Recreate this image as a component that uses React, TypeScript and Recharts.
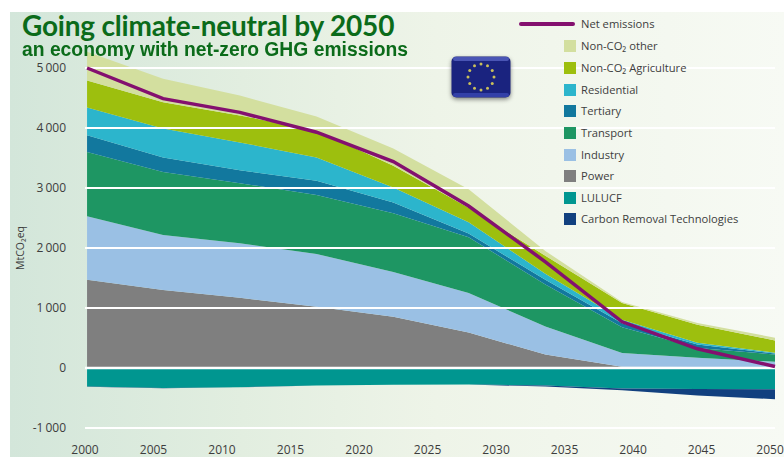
import React from "react";
import { ComposedChart, Area, Line, XAxis, YAxis, ReferenceLine } from "recharts";

// Scenario milestones sit on their own grid, slightly off the printed year labels
const years = [2000.15, 2005.7, 2011.3, 2016.9, 2022.5, 2028.0, 2033.6, 2039.2, 2044.7, 2050.36];
const yearTicks = [2000, 2005, 2010, 2015, 2020, 2025, 2030, 2035, 2040, 2045, 2050];
const valueTicks = [-1000, 0, 1000, 2000, 3000, 4000, 5000];

const power = [1470, 1300, 1170, 1020, 855, 590, 225, 20, 15, 5];
const industry = [1060, 915, 910, 880, 745, 660, 465, 230, 155, 100];
const transport = [1070, 1050, 1000, 985, 980, 930, 700, 430, 165, 120];
const tertiary = [280, 245, 215, 235, 180, 60, 80, 65, 55, 15];
const residential = [460, 480, 465, 390, 250, 190, 100, 60, 30, 15];
const agriculture = [450, 440, 450, 450, 360, 240, 300, 280, 300, 205];
const nonCo2Other = [480, 390, 330, 230, 290, 310, 80, 15, 30, 45];
const lulucf = [-310, -335, -320, -290, -280, -275, -290, -340, -350, -355];
// Kept just below zero: the sign offset would otherwise pull a zero back to the axis
const carbonRemoval = [-1, -1, -1, -1, -1, -1, -20, -30, -110, -165];
const netEmissions = [5000, 4490, 4260, 3930, 3440, 2700, 1770, 770, 320, 25];

const data = years.map((year, i) => ({
  year,
  power: power[i],
  industry: industry[i],
  transport: transport[i],
  tertiary: tertiary[i],
  residential: residential[i],
  agriculture: agriculture[i],
  nonCo2Other: nonCo2Other[i],
  lulucf: lulucf[i],
  carbonRemoval: carbonRemoval[i],
  net: netEmissions[i],
}));

// Drawn bottom-up, so the stack order follows this list
const areas = [
  { key: "power", color: "#7f7f7f" },
  { key: "industry", color: "#9ac0e4" },
  { key: "transport", color: "#1e9663" },
  { key: "tertiary", color: "#12789e" },
  { key: "residential", color: "#2cb5cc" },
  { key: "agriculture", color: "#9dbf0e" },
  { key: "nonCo2Other", color: "#d3df9f" },
  { key: "lulucf", color: "#009690" },
  { key: "carbonRemoval", color: "#11407f" },
];

const legendItems = [
  { label: "Non-CO₂ other", color: "#d3df9f", top: 46 },
  { label: "Non-CO₂ Agriculture", color: "#9dbf0e", top: 68 },
  { label: "Residential", color: "#2cb5cc", top: 90 },
  { label: "Tertiary", color: "#12789e", top: 111 },
  { label: "Transport", color: "#1e9663", top: 133 },
  { label: "Industry", color: "#9ac0e4", top: 155 },
  { label: "Power", color: "#7f7f7f", top: 176 },
  { label: "LULUCF", color: "#009690", top: 198 },
  { label: "Carbon Removal Technologies", color: "#11407f", top: 219 },
];

const formatValue = (v: number) => {
  if (v === 0) return "0";
  const abs = Math.abs(v);
  return `${v < 0 ? "-" : ""}${Math.floor(abs / 1000)}\u2009${String(abs % 1000).padStart(3, "0")}`;
};

const EuFlag = () => {
  const stars = Array.from({ length: 12 }, (_, i) => (i * Math.PI) / 6);
  return (
    <svg
      width={60}
      height={42}
      style={{ position: "absolute", left: 451, top: 56, filter: "drop-shadow(0 2px 2px rgba(0,0,0,0.45))" }}
    >
      <rect x={0.5} y={0.5} width={59} height={41} rx={5} fill="#1a237f" />
      <rect x={2} y={1} width={56} height={4} rx={2} fill="#4a55b5" />
      <rect x={2} y={37} width={56} height={4} rx={2} fill="#3340a8" />
      {stars.map((a) => (
        <circle key={a} cx={30 + 13 * Math.sin(a)} cy={21 + 13 * Math.cos(a)} r={1.5} fill="#c9bf5a" />
      ))}
    </svg>
  );
};

const App = () => {
  const tickStyle = { fontFamily: "'Open Sans'", fontSize: 12, fill: "#3d3d3d" };
  const legendText = { position: "absolute", left: 581, fontFamily: "'Open Sans'", fontSize: 11.2, lineHeight: "16px", color: "#3d3d3d", whiteSpace: "nowrap" } as const;
  return (
    <div
      style={{
        position: "absolute",
        left: 0,
        top: 0,
        width: 784,
        height: 457,
        background: "#fff",
        overflow: "hidden",
      }}
    >
      <div
        style={{
          position: "absolute",
          left: 10,
          top: 12,
          width: 774,
          height: 445,
          background: "linear-gradient(90deg, #d3e6da 0%, #e2eee0 30%, #eef4e8 55%, #f7faf4 100%)",
        }}
      />
      <ComposedChart
        width={784}
        height={457}
        data={data}
        stackOffset="sign"
        margin={{ top: 38, right: 9, bottom: 0, left: 25 }}
        style={{ position: "absolute", left: 0, top: 0 }}
      >
        <XAxis
          dataKey="year"
          type="number"
          domain={[2000, 2050.36]}
          ticks={yearTicks}
          interval={0}
          axisLine={false}
          tickLine={false}
          height={29}
          tick={tickStyle}
          tickMargin={11}
        />
        <YAxis
          type="number"
          domain={[-1000, 5500]}
          ticks={valueTicks}
          interval={0}
          width={60}
          axisLine={false}
          tickLine={false}
          tick={tickStyle}
          tickMargin={13}
          tickFormatter={formatValue}
        />
        {areas.map((a) => (
          <Area
            key={a.key}
            type="linear"
            dataKey={a.key}
            stackId="emissions"
            stroke="none"
            fill={a.color}
            fillOpacity={1}
            isAnimationActive={false}
          />
        ))}
        {valueTicks.map((v) => (
          <ReferenceLine key={v} y={v} stroke="#ffffff" strokeWidth={v === 0 ? 2.5 : 2} />
        ))}
        <Line
          type="linear"
          dataKey="net"
          stroke="#84106f"
          strokeWidth={3.5}
          dot={false}
          isAnimationActive={false}
        />
      </ComposedChart>

      <div
        style={{
          position: "absolute",
          left: 22,
          top: 11,
          fontFamily: "Lato",
          fontWeight: 700,
          fontSize: 28,
          lineHeight: "28px",
          letterSpacing: -0.2,
          color: "#0b6b1a",
          whiteSpace: "nowrap",
        }}
      >
        Going climate-neutral by 2050
      </div>
      <div
        style={{
          position: "absolute",
          left: 22,
          top: 39,
          fontFamily: "'Liberation Sans'",
          fontWeight: 700,
          fontSize: 20,
          lineHeight: "21px",
          color: "#0b6b1a",
          whiteSpace: "nowrap",
          transform: "scaleX(0.965)",
          transformOrigin: "left center",
        }}
      >
        an economy with net-zero GHG emissions
      </div>

      <div
        style={{
          position: "absolute",
          left: 20,
          top: 248,
          transform: "translate(-50%, -50%) rotate(-90deg)",
          fontFamily: "'Open Sans'",
          fontSize: 10.5,
          color: "#3d3d3d",
          whiteSpace: "nowrap",
        }}
      >
        MtCO₂eq
      </div>

      <EuFlag />

      <div style={{ position: "absolute", left: 519, top: 22, width: 56, height: 4, borderRadius: 2, background: "#84106f" }} />
      <div style={{ ...legendText, top: 16 }}>Net emissions</div>
      {legendItems.map((item) => (
        <React.Fragment key={item.label}>
          <div style={{ position: "absolute", left: 564, top: item.top - 6, width: 12, height: 12, background: item.color }} />
          <div style={{ ...legendText, top: item.top - 8 }}>{item.label}</div>
        </React.Fragment>
      ))}
    </div>
  );
};

export default App;
